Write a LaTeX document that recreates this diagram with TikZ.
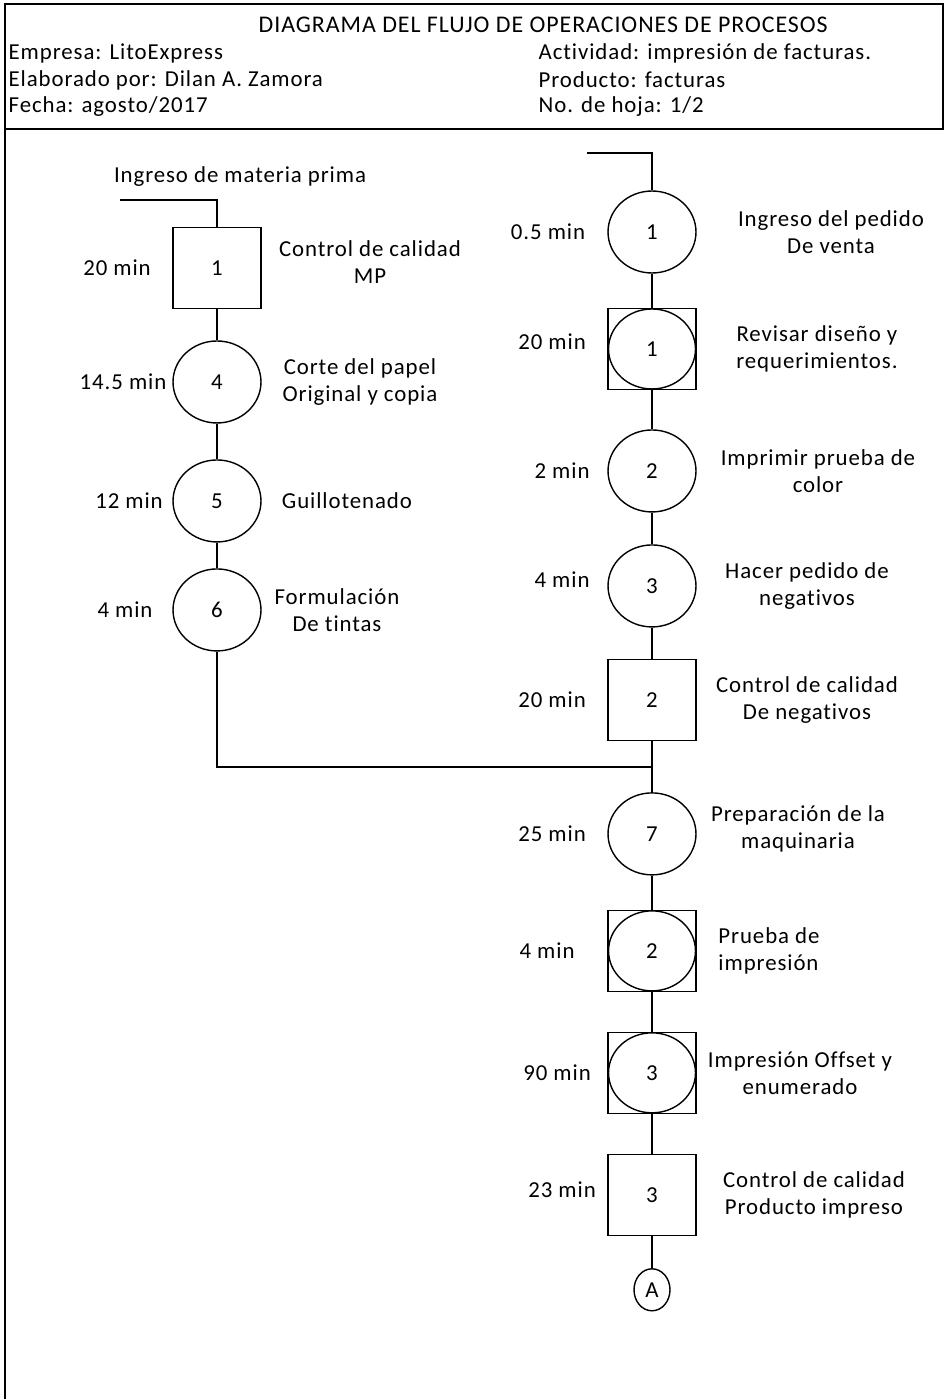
\documentclass[tikz,border=0pt]{standalone}
\usepackage{fontspec}
\setmainfont{Carlito}[LetterSpace=4, Ligatures=NoCommon]
\usetikzlibrary{shapes}
\tikzstyle{opcirc} = [ellipse, draw, minimum width=1.76cm, minimum height=1.64cm, inner sep=0pt]
\tikzstyle{opbox} = [rectangle, draw, minimum width=1.76cm, minimum height=1.62cm, inner sep=0pt]
\tikzstyle{combo} = [opbox, path picture={\draw (path picture bounding box.center) ellipse (0.87cm and 0.8cm);}]
\tikzstyle{conn} = [ellipse, draw, minimum width=0.72cm, minimum height=0.84cm, inner sep=0pt]
\tikzstyle{desc} = [align=center, inner sep=0pt]
\tikzstyle{hdr} = [anchor=west, inner sep=0pt]
\tikzstyle{line} = [draw]

\begin{document}
\begin{tikzpicture}[x=0.02cm, y=-0.02cm, line width=0.8pt, font=\fontsize{13}{15.3}\selectfont]
    \useasboundingbox (0,0) rectangle (945,1399);
    % Frame and header
    \draw (5,1399) -- (5,4) -- (943,4) -- (943,129) -- (5,129);
    \node [hdr, font=\fontsize{13.6}{15.3}\selectfont] (titulo) at (258,25) {DIAGRAMA DEL FLUJO DE OPERACIONES DE PROCESOS};
    \node [hdr] (empresa) at (8,53) {Empresa: LitoExpress};
    \node [hdr] (autor) at (8,80) {Elaborado por: Dilan A. Zamora};
    \node [hdr] (fecha) at (8,107) {Fecha: agosto/2017};
    \node [hdr] (actividad) at (538,53) {Actividad: impresión de facturas.};
    \node [hdr] (producto) at (538,80) {Producto: facturas};
    \node [hdr] (hoja) at (538,107) {No. de hoja: 1/2};
    % Place nodes, left branch
    \coordinate (mpin) at (120,200);
    \node [desc] (mplbl) at (240,177) {Ingreso de materia prima};
    \node [opbox] (ccmp) at (217,268) {1};
    \node [opcirc, below of=ccmp, node distance=2.28cm] (corte) {4};
    \node [opcirc, below of=corte, node distance=2.38cm] (guill) {5};
    \node [opcirc, below of=guill, node distance=2.18cm] (tintas) {6};
    % Place nodes, right branch
    \coordinate (pvin) at (587,153);
    \node [opcirc] (pedido) at (652,232) {1};
    \node [combo, below of=pedido, node distance=2.34cm] (revisar) {1};
    \node [opcirc, below of=revisar, node distance=2.44cm] (pruebacol) {2};
    \node [opcirc, below of=pruebacol, node distance=2.3cm] (negativos) {3};
    \node [opbox, below of=negativos, node distance=2.28cm] (ccneg) {2};
    \coordinate (junta) at (652,767);
    \node [opcirc, below of=ccneg, node distance=2.68cm] (maquina) {7};
    \node [combo, below of=maquina, node distance=2.34cm] (pruebaimp) {2};
    \node [combo, below of=pruebaimp, node distance=2.44cm] (offset) {3};
    \node [opbox, below of=offset, node distance=2.44cm] (ccprod) {3};
    \node [conn, below of=ccprod, node distance=1.9cm] (conA) {A};
    % Times
    \node [left of=ccmp, node distance=2cm] (t1) {20 min};
    \node [left of=corte, node distance=1.88cm] (t2) {14.5 min};
    \node [left of=guill, node distance=1.76cm] (t3) {12 min};
    \node [left of=tintas, node distance=1.84cm] (t4) {4 min};
    \node [left of=pedido, node distance=2.08cm] (t5) {0.5 min};
    \node [left of=revisar, node distance=2cm, yshift=0.14cm] (t6) {20 min};
    \node [left of=pruebacol, node distance=1.8cm] (t7) {2 min};
    \node [left of=negativos, node distance=1.8cm, yshift=0.12cm] (t8) {4 min};
    \node [left of=ccneg, node distance=2cm] (t9) {20 min};
    \node [left of=maquina, node distance=2cm] (t10) {25 min};
    \node [left of=pruebaimp, node distance=2.1cm] (t11) {4 min};
    \node [left of=offset, node distance=1.9cm] (t12) {90 min};
    \node [left of=ccprod, node distance=1.8cm, yshift=0.1cm] (t13) {23 min};
    % Descriptions
    \node [desc, right of=ccmp, node distance=3.06cm, yshift=0.12cm] (d1) {Control de calidad\\MP};
    \node [desc, right of=corte, node distance=2.86cm] (d2) {Corte del papel\\Original y copia};
    \node [desc, right of=guill, node distance=2.6cm] (d3) {Guillotenado};
    \node [desc, right of=tintas, node distance=2.4cm] (d4) {Formulación\\De tintas};
    \node [desc, right of=pedido, node distance=3.58cm] (d5) {Ingreso del pedido\\De venta};
    \node [desc, right of=revisar, node distance=3.3cm] (d6) {Revisar diseño y\\requerimientos.};
    \node [desc, right of=pruebacol, node distance=3.32cm] (d7) {Imprimir prueba de\\color};
    \node [desc, right of=negativos, node distance=3.1cm] (d8) {Hacer pedido de\\negativos};
    \node [desc, right of=ccneg, node distance=3.1cm] (d9) {Control de calidad\\De negativos};
    \node [desc, right of=maquina, node distance=2.92cm, yshift=0.1cm] (d10) {Preparación de la\\maquinaria};
    \node [desc, align=left, right of=pruebaimp, node distance=2.34cm] (d11) {Prueba de\\impresión};
    \node [desc, right of=offset, node distance=2.96cm] (d12) {Impresión Offset y\\enumerado};
    \node [desc, right of=ccprod, node distance=3.24cm] (d13) {Control de calidad\\Producto impreso};
    % Draw edges
    \path [line] (mpin) -| (ccmp);
    \path [line] (ccmp) -- (corte);
    \path [line] (corte) -- (guill);
    \path [line] (guill) -- (tintas);
    \path [line] (tintas) |- (junta);
    \path [line] (pvin) -| (pedido);
    \path [line] (pedido) -- (revisar);
    \path [line] (revisar) -- (pruebacol);
    \path [line] (pruebacol) -- (negativos);
    \path [line] (negativos) -- (ccneg);
    \path [line] (ccneg) -- (maquina);
    \path [line] (maquina) -- (pruebaimp);
    \path [line] (pruebaimp) -- (offset);
    \path [line] (offset) -- (ccprod);
    \path [line] (ccprod) -- (conA);
\end{tikzpicture}
\end{document}
